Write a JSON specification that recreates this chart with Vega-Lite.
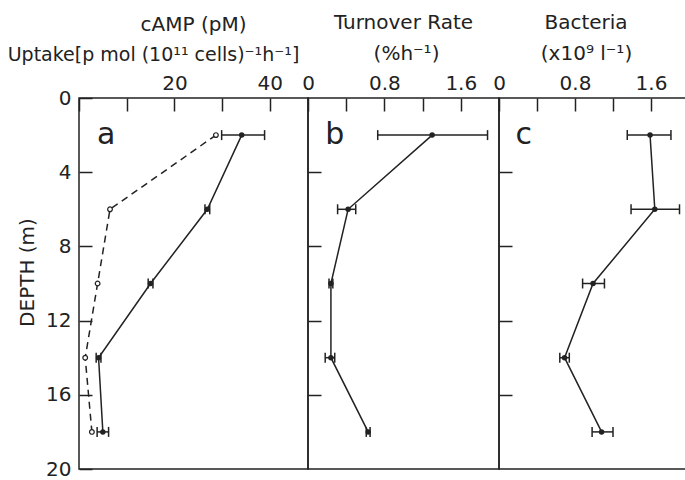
{
  "$schema": "https://vega.github.io/schema/vega-lite/v6.json",
  "background": "white",
  "padding": {"left": 6, "top": 12, "right": 0, "bottom": 0},
  "autosize": {"type": "pad"},
  "spacing": 0,
  "bounds": "flush",
  "config": {
    "view": {"stroke": "#222", "strokeWidth": 1.5},
    "font": "DejaVu Sans",
    "axis": {
      "domain": false, "grid": false, "tickColor": "#222", "tickWidth": 1.5, "tickSize": -13,
      "labelFont": "DejaVu Sans", "labelFontSize": 20, "labelColor": "#222", "labelFlush": false,
      "titleFont": "DejaVu Sans", "titleFontSize": 20, "titleFontWeight": "normal", "titleColor": "#222"
    },
    "title": {"fontSize": 20, "fontWeight": "normal", "color": "#222", "font": "DejaVu Sans", "offset": 10}
  },
  "datasets": {
    "a": [
      {"series": "Uptake", "depth": 2, "value": 34.1, "lo": 29.9, "hi": 38.9},
      {"series": "Uptake", "depth": 6, "value": 26.9, "lo": 26.4, "hi": 27.4},
      {"series": "Uptake", "depth": 10, "value": 15.0, "lo": 14.5, "hi": 15.5},
      {"series": "Uptake", "depth": 14, "value": 4.1, "lo": 3.6, "hi": 4.6},
      {"series": "Uptake", "depth": 18, "value": 5.0, "lo": 3.8, "hi": 6.2},
      {"series": "cAMP", "depth": 2, "value": 28.7},
      {"series": "cAMP", "depth": 6, "value": 6.5},
      {"series": "cAMP", "depth": 10, "value": 3.9},
      {"series": "cAMP", "depth": 14, "value": 1.3},
      {"series": "cAMP", "depth": 18, "value": 2.7}
    ],
    "b": [
      {"depth": 2, "value": 1.30, "lo": 0.73, "hi": 1.88},
      {"depth": 6, "value": 0.42, "lo": 0.31, "hi": 0.50},
      {"depth": 10, "value": 0.24, "lo": 0.22, "hi": 0.26},
      {"depth": 14, "value": 0.24, "lo": 0.18, "hi": 0.28},
      {"depth": 18, "value": 0.63, "lo": 0.61, "hi": 0.65}
    ],
    "c": [
      {"depth": 2, "value": 1.59, "lo": 1.35, "hi": 1.81},
      {"depth": 6, "value": 1.64, "lo": 1.39, "hi": 1.90},
      {"depth": 10, "value": 0.99, "lo": 0.88, "hi": 1.11},
      {"depth": 14, "value": 0.69, "lo": 0.64, "hi": 0.74},
      {"depth": 18, "value": 1.08, "lo": 0.98, "hi": 1.20}
    ],
    "labels": [
      {"panel": "a", "x": 5.7, "depth": 2.5, "label": "a"},
      {"panel": "b", "x": 0.28, "depth": 2.5, "label": "b"},
      {"panel": "c", "x": 0.26, "depth": 2.5, "label": "c"}
    ]
  },
  "resolve": {"scale": {"x": "independent", "y": "shared"}},
  "hconcat": [
    {
      "width": 229, "height": 371,
      "title": {"text": "cAMP (pM)", "anchor": "middle"},
      "layer": [
        {
          "data": {"name": "a"},
          "transform": [{"filter": "datum.series == 'cAMP'"}],
          "mark": {"type": "line", "strokeDash": [7, 5], "color": "#222", "strokeWidth": 1.5},
          "encoding": {
            "x": {"field": "value", "type": "quantitative", "scale": {"domain": [0, 48], "nice": false, "zero": false},
              "axis": {"orient": "top", "values": [0, 10, 20, 30, 40], "labelExpr": "datum.value == 20 || datum.value == 40 ? datum.label : ''",
                "labelPadding": 22, "labelBaseline": "alphabetic",
                "title": "Uptake[p mol (10¹¹ cells)⁻¹h⁻¹]", "titleFontSize": 19, "titleX": 74, "titleY": -38, "titleAlign": "center", "titleBaseline": "alphabetic"}},
            "y": {"field": "depth", "type": "quantitative", "scale": {"domain": [0, 20], "reverse": true, "nice": false},
              "axis": {"orient": "left", "values": [0, 4, 8, 12, 16, 20], "labelPadding": 21, "labelBaseline": "middle",
                "title": "DEPTH (m)", "titleX": -52, "titleY": 174, "titleAlign": "center", "titleBaseline": "middle", "titleAngle": -90}},
            "order": {"field": "depth"}
          }
        },
        {
          "data": {"name": "a"},
          "transform": [{"filter": "datum.series == 'cAMP'"}],
          "mark": {"type": "point", "filled": false, "color": "#222", "fill": "white", "fillOpacity": 1, "size": 22, "strokeWidth": 1.2, "opacity": 1},
          "encoding": {
            "x": {"field": "value", "type": "quantitative"},
            "y": {"field": "depth", "type": "quantitative"}
          }
        },
        {
          "data": {"name": "a"},
          "transform": [{"filter": "datum.series == 'Uptake'"}],
          "mark": {"type": "line", "color": "#222", "strokeWidth": 1.5},
          "encoding": {
            "x": {"field": "value", "type": "quantitative"},
            "y": {"field": "depth", "type": "quantitative"},
            "order": {"field": "depth"}
          }
        },
        {
          "data": {"name": "a"},
          "transform": [{"filter": "datum.series == 'Uptake'"}],
          "mark": {"type": "rule", "color": "#222", "strokeWidth": 1.5},
          "encoding": {
            "x": {"field": "lo", "type": "quantitative"},
            "x2": {"field": "hi"},
            "y": {"field": "depth", "type": "quantitative"}
          }
        },
        {
          "data": {"name": "a"},
          "transform": [{"filter": "datum.series == 'Uptake'"}],
          "mark": {"type": "tick", "orient": "vertical", "color": "#222", "size": 10, "thickness": 1.5, "opacity": 1},
          "encoding": {
            "x": {"field": "lo", "type": "quantitative"},
            "y": {"field": "depth", "type": "quantitative"}
          }
        },
        {
          "data": {"name": "a"},
          "transform": [{"filter": "datum.series == 'Uptake'"}],
          "mark": {"type": "tick", "orient": "vertical", "color": "#222", "size": 10, "thickness": 1.5, "opacity": 1},
          "encoding": {
            "x": {"field": "hi", "type": "quantitative"},
            "y": {"field": "depth", "type": "quantitative"}
          }
        },
        {
          "data": {"name": "a"},
          "transform": [{"filter": "datum.series == 'Uptake'"}],
          "mark": {"type": "point", "filled": true, "color": "#222", "size": 30, "opacity": 1},
          "encoding": {
            "x": {"field": "value", "type": "quantitative"},
            "y": {"field": "depth", "type": "quantitative"}
          }
        },
        {
          "data": {"name": "labels"},
          "transform": [{"filter": "datum.panel == 'a'"}],
          "mark": {"type": "text", "fontSize": 30, "align": "center", "baseline": "alphabetic", "color": "#222", "font": "DejaVu Sans"},
          "encoding": {
            "x": {"field": "x", "type": "quantitative"},
            "y": {"field": "depth", "type": "quantitative"},
            "text": {"field": "label"}
          }
        }
      ]
    },
    {
      "width": 191, "height": 371,
      "title": {"text": "Turnover Rate", "anchor": "middle"},
      "layer": [
        {
          "data": {"name": "b"},
          "mark": {"type": "line", "color": "#222", "strokeWidth": 1.5},
          "encoding": {
            "x": {"field": "value", "type": "quantitative", "scale": {"domain": [0, 2], "nice": false, "zero": false},
              "axis": {"orient": "top", "values": [0, 0.4, 0.8, 1.2, 1.6],
                "labelExpr": "datum.value == 0 ? '0' : (abs(datum.value - 0.8) < 0.01 ? '0.8' : (abs(datum.value - 1.6) < 0.01 ? '1.6' : ''))",
                "labelPadding": 22, "labelBaseline": "alphabetic",
                "title": "(%h⁻¹)", "titleX": 98, "titleY": -39, "titleAlign": "center", "titleBaseline": "alphabetic"}},
            "y": {"field": "depth", "type": "quantitative", "scale": {"domain": [0, 20], "reverse": true, "nice": false},
              "axis": {"orient": "left", "values": [4, 8, 12, 16], "labels": false, "title": null}},
            "order": {"field": "depth"}
          }
        },
        {
          "data": {"name": "b"},
          "mark": {"type": "rule", "color": "#222", "strokeWidth": 1.5},
          "encoding": {
            "x": {"field": "lo", "type": "quantitative"},
            "x2": {"field": "hi"},
            "y": {"field": "depth", "type": "quantitative"}
          }
        },
        {
          "data": {"name": "b"},
          "mark": {"type": "tick", "orient": "vertical", "color": "#222", "size": 10, "thickness": 1.5, "opacity": 1},
          "encoding": {
            "x": {"field": "lo", "type": "quantitative"},
            "y": {"field": "depth", "type": "quantitative"}
          }
        },
        {
          "data": {"name": "b"},
          "mark": {"type": "tick", "orient": "vertical", "color": "#222", "size": 10, "thickness": 1.5, "opacity": 1},
          "encoding": {
            "x": {"field": "hi", "type": "quantitative"},
            "y": {"field": "depth", "type": "quantitative"}
          }
        },
        {
          "data": {"name": "b"},
          "mark": {"type": "point", "filled": true, "color": "#222", "size": 30, "opacity": 1},
          "encoding": {
            "x": {"field": "value", "type": "quantitative"},
            "y": {"field": "depth", "type": "quantitative"}
          }
        },
        {
          "data": {"name": "labels"},
          "transform": [{"filter": "datum.panel == 'b'"}],
          "mark": {"type": "text", "fontSize": 30, "align": "center", "baseline": "alphabetic", "color": "#222", "font": "DejaVu Sans"},
          "encoding": {
            "x": {"field": "x", "type": "quantitative"},
            "y": {"field": "depth", "type": "quantitative"},
            "text": {"field": "label"}
          }
        }
      ]
    },
    {
      "width": 190, "height": 371,
      "title": {"text": "Bacteria", "anchor": "middle", "dx": -8},
      "layer": [
        {
          "data": {"name": "c"},
          "mark": {"type": "line", "color": "#222", "strokeWidth": 1.5},
          "encoding": {
            "x": {"field": "value", "type": "quantitative", "scale": {"domain": [0, 2], "nice": false, "zero": false},
              "axis": {"orient": "top", "values": [0, 0.4, 0.8, 1.2, 1.6],
                "labelExpr": "datum.value == 0 ? '0' : (abs(datum.value - 0.8) < 0.01 ? '0.8' : (abs(datum.value - 1.6) < 0.01 ? '1.6' : ''))",
                "labelPadding": 22, "labelBaseline": "alphabetic",
                "title": "(x10⁹ l⁻¹)", "titleX": 87, "titleY": -39, "titleAlign": "center", "titleBaseline": "alphabetic"}},
            "y": {"field": "depth", "type": "quantitative", "scale": {"domain": [0, 20], "reverse": true, "nice": false},
              "axis": {"orient": "left", "values": [4, 8, 12, 16], "labels": false, "title": null}},
            "order": {"field": "depth"}
          }
        },
        {
          "data": {"name": "c"},
          "mark": {"type": "rule", "color": "#222", "strokeWidth": 1.5},
          "encoding": {
            "x": {"field": "lo", "type": "quantitative"},
            "x2": {"field": "hi"},
            "y": {"field": "depth", "type": "quantitative"}
          }
        },
        {
          "data": {"name": "c"},
          "mark": {"type": "tick", "orient": "vertical", "color": "#222", "size": 10, "thickness": 1.5, "opacity": 1},
          "encoding": {
            "x": {"field": "lo", "type": "quantitative"},
            "y": {"field": "depth", "type": "quantitative"}
          }
        },
        {
          "data": {"name": "c"},
          "mark": {"type": "tick", "orient": "vertical", "color": "#222", "size": 10, "thickness": 1.5, "opacity": 1},
          "encoding": {
            "x": {"field": "hi", "type": "quantitative"},
            "y": {"field": "depth", "type": "quantitative"}
          }
        },
        {
          "data": {"name": "c"},
          "mark": {"type": "point", "filled": true, "color": "#222", "size": 30, "opacity": 1},
          "encoding": {
            "x": {"field": "value", "type": "quantitative"},
            "y": {"field": "depth", "type": "quantitative"}
          }
        },
        {
          "data": {"name": "labels"},
          "transform": [{"filter": "datum.panel == 'c'"}],
          "mark": {"type": "text", "fontSize": 30, "align": "center", "baseline": "alphabetic", "color": "#222", "font": "DejaVu Sans"},
          "encoding": {
            "x": {"field": "x", "type": "quantitative"},
            "y": {"field": "depth", "type": "quantitative"},
            "text": {"field": "label"}
          }
        }
      ]
    }
  ]
}
